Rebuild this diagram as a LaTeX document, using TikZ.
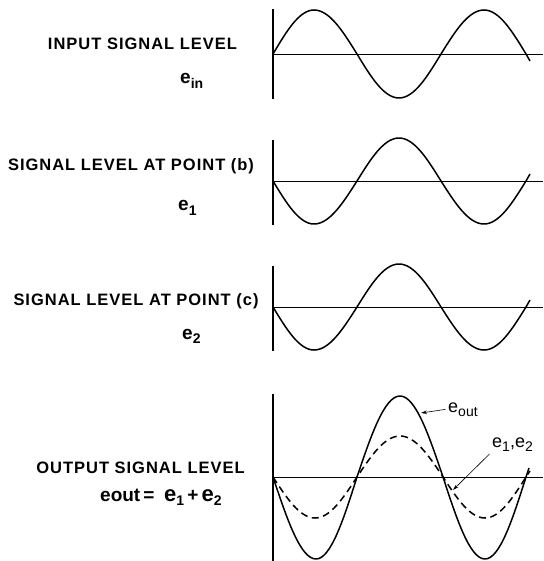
\documentclass[tikz,border=0pt]{standalone}
\usepackage{fontspec}
\setmainfont{Liberation Sans}
\newfontfamily\rotfonte{Liberation Sans}[LetterSpace=6]
\usetikzlibrary{arrows.meta}
\definecolor{tinta}{HTML}{000000}
\newcommand{\baixo}[1]{\raisebox{-0.45ex}{\fontsize{14}{14}\selectfont #1}}
\tikzset{
  eixo/.style={draw=tinta,line width=0.9pt},
  eixov/.style={draw=tinta,line width=1.3pt},
  curva/.style={draw=tinta,line width=1.5pt,line join=round},
  tracejada/.style={curva,dash pattern=on 7pt off 4.5pt},
  rot/.style={font=\rotfonte\fontsize{16.5}{18}\selectfont\bfseries,text=tinta,inner sep=0pt,anchor=base},
  sinal/.style={font=\fontsize{19}{20}\selectfont\bfseries,text=tinta,inner sep=0pt,anchor=base west},
  legenda/.style={font=\fontsize{18}{20}\selectfont,text=tinta,inner sep=2.5pt,anchor=base west},
  seta/.style={tinta,line width=0.6pt,-{Stealth[length=6pt,width=3.5pt]}},
}
\begin{document}
\begin{tikzpicture}[x=1pt,y=-1pt]
  \path[use as bounding box,fill=white] (0,0) rectangle (543,561);
  % painel 1: entrada
  \draw[eixov] (273,9) -- (273,99);
  \draw[eixo] (273,54) -- (543,54);
  \draw[curva] (273,54) sin (314,10) cos (357,54) sin (399,98) cos (441,54) sin (484,10) cos (526,54) -- (530,61);
  \node[rot] (tEntrada) at (142.5,50) {INPUT SIGNAL LEVEL};
  \node[sinal] (sEntrada) at (180,84) {e\baixo{in}};
  % paineis 2 e 3: pontos (b) e (c)
  \foreach \c in {181,307} {
    \draw[eixov] (273,{\c-41}) -- (273,{\c+44});
    \draw[eixo] (273,\c) -- (543,\c);
    \draw[curva] (273,\c) sin (314,{\c+43}) cos (357,\c) sin (399,{\c-43}) cos (441,\c) sin (484,{\c+43}) cos (526,\c) -- (530,{\c-7});}
  \node[rot] (tPontoB) at (131,171) {SIGNAL LEVEL AT POINT (b)};
  \node[sinal] (sPontoB) at (178,211) {e\baixo{1}};
  \node[rot] (tPontoC) at (136,305) {SIGNAL LEVEL AT POINT (c)};
  \node[sinal] (sPontoC) at (182,339) {e\baixo{2}};
  % painel 4: saida = soma
  \draw[eixov] (273,394) -- (273,561);
  \draw[eixo] (273,477) -- (543,477);
  \draw[curva] (273,477) sin (316,559) cos (357,477) sin (400,396) cos (443,477) sin (485,559) cos (526,477) -- (529,468);
  \draw[tracejada] (273,477) sin (315,518) cos (357,477) sin (400,436) cos (443,477) sin (485,518) cos (526,477) -- (530,471);
  \node[rot] (tSaida) at (140.5,473) {OUTPUT SIGNAL LEVEL};
  \node[sinal] (sSaida) at (100,501) {eout\,=\enspace{\fontsize{22}{22}\selectfont e}\baixo{1}\,+\,{\fontsize{22}{22}\selectfont e}\baixo{2}};
  % chamadas
  \node[legenda] (lSaida) at (445.5,412) {e\baixo{out}};
  \node[legenda] (lSoma) at (489.5,447) {e\baixo{1},e\baixo{2}};
  \coordinate (pSaida) at (421,413);
  \coordinate (pSoma) at (453,490);
  \draw[seta] (lSaida.west) -- (pSaida);
  \draw[seta] (lSoma.south west) -- (pSoma);
\end{tikzpicture}
\end{document}
